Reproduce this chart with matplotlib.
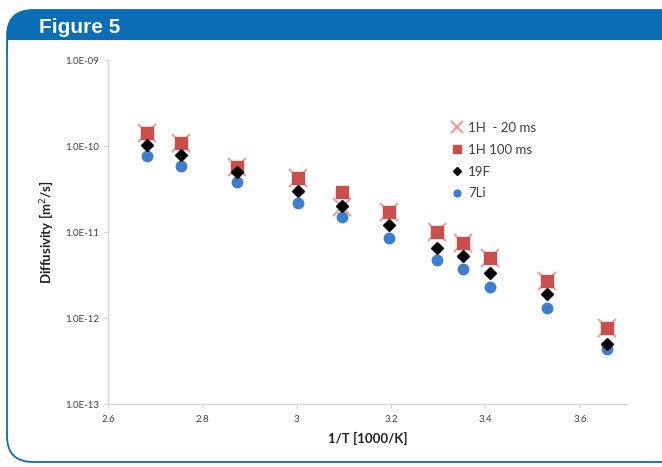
import matplotlib
matplotlib.use("Agg")
import matplotlib.pyplot as plt
from matplotlib.patches import FancyBboxPatch, Rectangle
from matplotlib.ticker import FixedLocator, FuncFormatter, NullLocator

# data
inv_t = [2.683, 2.755, 2.873, 3.002, 3.095, 3.195, 3.298, 3.353, 3.410, 3.531, 3.658]
h1_20ms = [1.42e-10, 1.08e-10, 5.7e-11, 4.25e-11, 1.95e-11, 1.71e-11, 1.0e-11, 7.45e-12, 4.99e-12, 2.69e-12, 7.66e-13]
h1_100ms = [1.42e-10, 1.08e-10, 5.7e-11, 4.25e-11, 2.92e-11, 1.71e-11, 1.0e-11, 7.45e-12, 4.99e-12, 2.69e-12, 7.66e-13]
f19 = [1.03e-10, 7.86e-11, 4.99e-11, 3.0e-11, 2.0e-11, 1.2e-11, 6.5e-12, 5.26e-12, 3.34e-12, 1.9e-12, 4.99e-13]
li7 = [7.65e-11, 5.85e-11, 3.8e-11, 2.17e-11, 1.49e-11, 8.5e-12, 4.7e-12, 3.7e-12, 2.29e-12, 1.31e-12, 4.37e-13]

series_labels = ["1H  - 20 ms", "1H 100 ms", "19F", "7Li"]
x_ticks = [2.6, 2.8, 3.0, 3.2, 3.4, 3.6]
x_tick_labels = ["2.6", "2.8", "3", "3.2", "3.4", "3.6"]
y_ticks = [1e-13, 1e-12, 1e-11, 1e-10, 1e-9]

W, H = 662, 467
BLUE = "#0B6DB5"
TXT = "#404040"
FONT = "Lato"

fig = plt.figure(figsize=(W / 100, H / 100), dpi=100)

# ---- frame and header drawn in pixel coordinates ----
bg = fig.add_axes([0, 0, 1, 1])
bg.set_xlim(0, W)
bg.set_ylim(H, 0)
bg.axis("off")
header = FancyBboxPatch((7, 10), 720, 60, boxstyle="round,pad=0,rounding_size=26",
                        fc=BLUE, ec="none", zorder=1)
bg.add_patch(header)
bg.add_patch(Rectangle((8, 40), 720, 100, fc="white", ec="none", zorder=2))
frame = FancyBboxPatch((7, 10), 680, 452, boxstyle="round,pad=0,rounding_size=26",
                       fc="none", ec=BLUE, lw=1.3, zorder=3)
bg.add_patch(frame)
bg.text(39, 33, "Figure 5", color="white", fontsize=15, fontweight="bold",
        family="Liberation Sans", zorder=4)

# ---- main chart ----
ax = fig.add_axes([108 / W, 1 - 404 / H, 519 / W, 344 / H])
ax.patch.set_alpha(0)

ax.plot(inv_t, h1_20ms, linestyle="none", marker="x", markersize=12.5, mew=1.5,
        color="#EE9C96", label=series_labels[0], zorder=3)
ax.plot(inv_t, h1_100ms, linestyle="none", marker="s", markersize=8.5,
        color="#C9504A", label=series_labels[1], zorder=4)
ax.plot(inv_t, f19, linestyle="none", marker="D", markersize=6,
        color="black", label=series_labels[2], zorder=5)
ax.plot(inv_t, li7, linestyle="none", marker="o", markersize=7.5,
        color="#3E7FCB", label=series_labels[3], zorder=4)

ax.set_yscale("log")
ax.set_xlim(2.6, 3.7)
ax.set_ylim(1e-13, 1e-9)
ax.xaxis.set_major_locator(FixedLocator(x_ticks))
ax.set_xticklabels(x_tick_labels)
ax.yaxis.set_major_locator(FixedLocator(y_ticks))
ax.yaxis.set_minor_locator(NullLocator())
ax.yaxis.set_major_formatter(FuncFormatter(lambda v, p: "%.1E" % v))

for s in ["top", "right"]:
    ax.spines[s].set_visible(False)
for s in ["left", "bottom"]:
    ax.spines[s].set_color("#D4D4D4")
    ax.spines[s].set_linewidth(1.0)
ax.tick_params(axis="both", length=3, color="#D4D4D4", labelsize=7, labelcolor=TXT)
for lab in ax.get_xticklabels() + ax.get_yticklabels():
    lab.set_family(FONT)
ax.tick_params(axis="x", pad=5)

ax.set_xlabel("1/T [1000/K]", fontsize=9.5, fontweight="bold", color="#202020",
              family=FONT, labelpad=6)
ax.set_ylabel("Diffusivity [m$^2$/s]", fontsize=9.5, fontweight="bold", color="#202020",
              family=FONT, labelpad=7)

leg = ax.legend(loc="upper left", bbox_to_anchor=(0.64, 0.855), frameon=False,
                prop={"family": FONT, "size": 9.5}, labelcolor=TXT,
                handlelength=0.7, handletextpad=0.5, labelspacing=0.75,
                markerscale=0.65)

fig.savefig("out.png", dpi=100)
